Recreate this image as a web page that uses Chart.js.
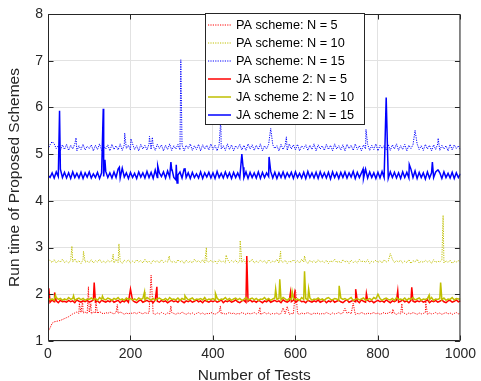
<!DOCTYPE html>
<html>
<head>
<meta charset="utf-8">
<script src="https://cdn.jsdelivr.net/npm/chart.js@4/dist/chart.umd.min.js"></script>
<style>
html,body{margin:0;padding:0;background:#fff;}
#wrap{width:481px;height:381px;}
</style>
</head>
<body>
<div id="wrap"><canvas id="c" width="481" height="381"></canvas></div>
<script>
// ---- data (sampled every testStep tests, plus isolated spikes as [test, value]) ----
const testStep = 5;
const xTicks = [0, 200, 400, 600, 800, 1000];
const yTicks = [1, 2, 3, 4, 5, 6, 7, 8];
const seriesLabels = ['PA scheme: N = 5', 'PA scheme: N = 10', 'PA scheme: N = 15',
                      'JA scheme 2: N = 5', 'JA scheme 2: N = 10', 'JA scheme 2: N = 15'];

const pa5 = [
1.20,1.28,1.38,1.41,1.42,1.43,1.44,1.46,1.48,1.50,
1.52,1.55,1.58,1.60,1.62,1.59,1.61,1.60,1.62,1.59,
1.61,1.58,1.62,1.60,1.59,1.63,1.60,1.58,1.61,1.59,
1.62,1.60,1.58,1.61,1.59,1.62,1.60,1.57,1.60,1.58,
1.60,1.59,1.61,1.58,1.62,1.60,1.58,1.61,1.59,1.60,
1.62,1.59,1.57,1.60,1.58,1.61,1.59,1.57,1.60,1.58,
1.61,1.59,1.57,1.60,1.58,1.62,1.59,1.57,1.60,1.58,
1.60,1.57,1.59,1.61,1.58,1.60,1.57,1.59,1.58,1.61,
1.59,1.57,1.60,1.62,1.58,1.60,1.57,1.59,1.61,1.58,
1.60,1.57,1.59,1.58,1.61,1.59,1.57,1.60,1.58,1.59,
1.61,1.58,1.60,1.57,1.59,1.61,1.58,1.60,1.57,1.59,
1.58,1.60,1.57,1.59,1.61,1.58,1.60,1.57,1.59,1.58,
1.61,1.59,1.57,1.60,1.58,1.59,1.61,1.58,1.57,1.60,
1.58,1.60,1.57,1.59,1.58,1.61,1.59,1.57,1.60,1.58,
1.59,1.61,1.58,1.60,1.57,1.59,1.62,1.58,1.60,1.57,
1.59,1.58,1.61,1.59,1.57,1.60,1.58,1.59,1.61,1.58,
1.60,1.57,1.59,1.61,1.58,1.60,1.62,1.58,1.59,1.57,
1.60,1.58,1.61,1.59,1.57,1.60,1.58,1.61,1.59,1.57,
1.60,1.58,1.59,1.61,1.57,1.60,1.58,1.59,1.61,1.58,
1.60,1.57,1.59,1.61,1.58,1.60,1.57,1.59,1.61,1.58,
1.60];
const pa5Spikes = [[76,1.81],[84,1.87],[98,2.16],[104,1.80],[116,1.87],[168,1.78],[250,2.41],[298,1.75],
  [418,1.75],[514,1.72],[570,1.71],[580,1.74],[600,2.10],[602,1.95],[720,1.70],[740,1.81],[836,1.68],[858,1.80],[916,1.83]];

const pa10 = [
2.78,2.72,2.68,2.74,2.67,2.72,2.69,2.75,2.68,2.71,
2.67,2.73,2.69,2.76,2.68,2.72,2.66,2.74,2.69,2.71,
2.68,2.74,2.67,2.72,2.69,2.75,2.68,2.71,2.67,2.73,
2.69,2.72,2.67,2.75,2.68,2.71,2.66,2.73,2.69,2.74,
2.67,2.71,2.68,2.74,2.69,2.72,2.67,2.75,2.68,2.71,
2.66,2.73,2.69,2.72,2.67,2.74,2.68,2.71,2.69,2.75,
2.68,2.71,2.67,2.74,2.69,2.72,2.66,2.73,2.68,2.71,
2.67,2.75,2.69,2.72,2.68,2.74,2.67,2.71,2.69,2.73,
2.68,2.72,2.66,2.74,2.69,2.71,2.67,2.75,2.68,2.72,
2.69,2.73,2.67,2.71,2.68,2.74,2.66,2.72,2.69,2.75,
2.67,2.71,2.68,2.73,2.69,2.72,2.66,2.74,2.68,2.71,
2.69,2.75,2.67,2.72,2.68,2.73,2.66,2.71,2.69,2.74,
2.68,2.72,2.67,2.75,2.69,2.71,2.66,2.73,2.68,2.72,
2.67,2.74,2.69,2.71,2.68,2.73,2.66,2.72,2.69,2.75,
2.68,2.71,2.67,2.74,2.69,2.72,2.66,2.73,2.68,2.71,
2.67,2.75,2.69,2.72,2.68,2.74,2.66,2.71,2.69,2.73,
2.68,2.72,2.67,2.74,2.69,2.71,2.66,2.75,2.68,2.72,
2.69,2.73,2.67,2.71,2.68,2.74,2.66,2.72,2.69,2.75,
2.67,2.71,2.68,2.73,2.69,2.72,2.66,2.74,2.68,2.71,
2.69,2.74,2.67,2.72,2.68,2.73,2.66,2.71,2.69,2.72,
2.68];
const pa10Spikes = [[58,3.03],[86,2.92],[158,2.86],[172,3.08],[294,2.82],[384,3.00],[432,2.84],[466,3.15],
  [564,2.92],[622,2.82],[830,2.87],[958,3.69]];

const pa15 = [
5.10,5.20,5.08,5.22,5.12,5.18,5.07,5.20,5.10,5.21,
5.08,5.19,5.11,5.22,5.07,5.18,5.10,5.21,5.09,5.17,
5.12,5.20,5.07,5.19,5.10,5.22,5.08,5.18,5.11,5.20,
5.07,5.21,5.10,5.18,5.09,5.22,5.08,5.20,5.12,5.19,
5.08,5.22,5.10,5.18,5.07,5.21,5.11,5.19,5.09,5.22,
5.10,5.18,5.08,5.21,5.12,5.20,5.07,5.19,5.10,5.22,
5.08,5.18,5.11,5.21,5.09,5.20,5.07,5.19,5.12,5.22,
5.08,5.18,5.10,5.21,5.07,5.20,5.11,5.19,5.09,5.22,
5.10,5.19,5.07,5.21,5.11,5.18,5.08,5.22,5.10,5.20,
5.07,5.18,5.12,5.21,5.09,5.19,5.08,5.22,5.11,5.20,
5.08,5.19,5.10,5.22,5.07,5.18,5.11,5.21,5.09,5.20,
5.12,5.18,5.07,5.21,5.10,5.19,5.08,5.22,5.11,5.20,
5.09,5.21,5.07,5.18,5.12,5.20,5.08,5.19,5.10,5.22,
5.07,5.20,5.11,5.18,5.08,5.21,5.10,5.19,5.07,5.22,
5.11,5.18,5.09,5.20,5.07,5.21,5.12,5.19,5.08,5.22,
5.10,5.18,5.07,5.20,5.11,5.21,5.08,5.19,5.10,5.22,
5.07,5.19,5.12,5.18,5.09,5.21,5.08,5.20,5.11,5.22,
5.08,5.18,5.10,5.21,5.07,5.19,5.12,5.20,5.09,5.22,
5.10,5.18,5.08,5.21,5.11,5.19,5.07,5.20,5.10,5.22,
5.08,5.19,5.11,5.18,5.07,5.21,5.09,5.20,5.12,5.18,
5.09];
const pa15Spikes = [[10,5.27],[68,5.35],[186,5.45],[201,5.33],[246,5.38],[253,5.36],[322,7.02],[419,5.75],
  [540,5.55],[578,5.37],[771,5.53],[890,5.51],[946,5.34]];

const ja5 = [
1.86,1.83,1.88,1.84,1.86,1.82,1.87,1.84,1.85,1.83,
1.87,1.84,1.86,1.82,1.88,1.85,1.83,1.86,1.84,1.87,
1.83,1.85,1.88,1.84,1.86,1.82,1.87,1.85,1.83,1.86,
1.84,1.88,1.83,1.85,1.87,1.82,1.86,1.84,1.88,1.83,
1.85,1.87,1.84,1.82,1.86,1.88,1.83,1.85,1.87,1.84,
1.86,1.82,1.88,1.85,1.83,1.87,1.84,1.86,1.82,1.85,
1.87,1.84,1.86,1.83,1.88,1.85,1.82,1.86,1.84,1.87,
1.83,1.85,1.88,1.84,1.86,1.82,1.87,1.85,1.83,1.86,
1.84,1.87,1.83,1.85,1.88,1.82,1.86,1.84,1.87,1.83,
1.85,1.88,1.84,1.82,1.86,1.87,1.83,1.85,1.88,1.84,
1.86,1.83,1.87,1.85,1.82,1.86,1.84,1.88,1.83,1.85,
1.87,1.84,1.86,1.82,1.88,1.85,1.83,1.86,1.84,1.87,
1.83,1.86,1.88,1.84,1.85,1.82,1.87,1.85,1.83,1.86,
1.84,1.88,1.83,1.85,1.87,1.82,1.86,1.84,1.88,1.83,
1.85,1.87,1.84,1.82,1.86,1.88,1.83,1.85,1.87,1.84,
1.86,1.82,1.88,1.85,1.83,1.87,1.84,1.86,1.82,1.85,
1.87,1.84,1.86,1.83,1.88,1.85,1.82,1.86,1.84,1.87,
1.83,1.85,1.88,1.84,1.86,1.82,1.87,1.85,1.83,1.86,
1.84,1.87,1.83,1.85,1.88,1.82,1.86,1.84,1.87,1.83,
1.85,1.88,1.84,1.82,1.86,1.87,1.83,1.85,1.88,1.84,
1.86];
const ja5Spikes = [[2,2.13],[16,2.04],[112,2.25],[200,2.11],[264,2.16],[482,2.82],[588,2.04],[598,2.02],
  [746,2.11],[772,2.02],[848,2.07],[882,2.15]];

const ja10 = [
1.92,1.88,1.90,1.87,1.93,1.89,1.91,1.87,1.90,1.88,
1.93,1.89,1.91,1.87,1.90,1.92,1.88,1.91,1.87,1.90,
1.89,1.92,1.88,1.91,1.87,1.93,1.89,1.90,1.88,1.92,
1.90,1.87,1.91,1.89,1.93,1.88,1.90,1.87,1.92,1.89,
1.91,1.88,1.90,1.87,1.92,1.89,1.91,1.88,1.93,1.90,
1.88,1.91,1.87,1.90,1.92,1.89,1.88,1.91,1.87,1.93,
1.89,1.90,1.88,1.92,1.87,1.91,1.89,1.93,1.88,1.90,
1.92,1.87,1.90,1.89,1.91,1.88,1.93,1.87,1.90,1.89,
1.91,1.88,1.92,1.87,1.90,1.89,1.93,1.88,1.91,1.87,
1.90,1.92,1.88,1.91,1.87,1.89,1.93,1.88,1.90,1.92,
1.88,1.91,1.87,1.90,1.89,1.93,1.88,1.91,1.87,1.90,
1.92,1.89,1.91,1.88,1.93,1.90,1.87,1.91,1.89,1.92,
1.88,1.90,1.87,1.93,1.89,1.91,1.88,1.92,1.87,1.90,
1.89,1.92,1.88,1.90,1.87,1.91,1.93,1.89,1.88,1.91,
1.90,1.87,1.92,1.89,1.91,1.88,1.90,1.93,1.87,1.89,
1.91,1.88,1.90,1.92,1.87,1.89,1.91,1.88,1.93,1.90,
1.88,1.91,1.87,1.90,1.92,1.89,1.88,1.91,1.87,1.93,
1.89,1.90,1.88,1.92,1.87,1.91,1.89,1.93,1.88,1.90,
1.92,1.87,1.90,1.89,1.91,1.88,1.93,1.87,1.90,1.89,
1.91,1.88,1.92,1.87,1.90,1.89,1.93,1.88,1.91,1.90,
1.90];
const ja10Spikes = [[18,1.98],[62,1.97],[132,1.96],[234,2.05],[332,1.97],[406,2.02],[552,2.11],[562,2.32],
  [592,2.06],[622,2.49],[632,2.11],[706,2.18],[800,2.00],[924,1.98],[952,2.25]];

const ja15 = [
4.55,4.50,4.60,4.49,4.62,4.52,4.68,4.50,4.61,4.49,
4.60,4.48,4.62,4.50,4.59,4.49,4.61,4.48,4.60,4.51,
4.62,4.49,4.58,4.50,4.61,4.48,4.60,4.52,4.63,4.50,
4.60,4.49,4.62,4.50,4.68,4.49,4.70,4.51,4.60,4.48,
4.61,4.50,4.59,4.48,4.62,4.51,4.60,4.49,4.63,4.50,
4.61,4.48,4.66,4.50,4.60,4.52,4.62,4.49,4.64,4.51,
4.66,4.50,4.45,4.55,4.62,4.49,4.68,4.50,4.60,4.48,
4.61,4.50,4.58,4.49,4.62,4.48,4.60,4.51,4.61,4.49,
4.60,4.48,4.63,4.50,4.59,4.49,4.62,4.50,4.60,4.48,
4.61,4.50,4.60,4.49,4.70,4.50,4.62,4.48,4.61,4.50,
4.60,4.49,4.62,4.48,4.61,4.50,4.60,4.52,4.63,4.49,
4.61,4.48,4.60,4.50,4.62,4.49,4.60,4.51,4.61,4.48,
4.62,4.50,4.59,4.49,4.61,4.48,4.63,4.50,4.60,4.49,
4.61,4.48,4.62,4.50,4.60,4.49,4.61,4.47,4.62,4.50,
4.60,4.48,4.61,4.50,4.62,4.49,4.60,4.51,4.63,4.48,
4.61,4.50,4.60,4.48,4.68,4.49,4.62,4.50,4.60,4.48,
4.61,4.49,4.63,4.50,4.60,4.48,4.62,4.50,4.61,4.49,
4.60,4.48,4.62,4.50,4.61,4.49,4.68,4.50,4.64,4.48,
4.61,4.50,4.60,4.47,4.62,4.49,4.60,4.50,4.62,4.66,
4.60,4.48,4.62,4.50,4.59,4.49,4.61,4.48,4.60,4.50,
4.58];
const ja15Spikes = [[28,5.93],[134,5.97],[138,4.88],[173,4.72],[266,4.75],[298,4.83],[301,4.66],[311,4.77],
  [313,4.38],[332,4.70],[470,5.00],[473,4.72],[536,4.94],[764,4.68],[820,6.21],[876,4.78],[932,4.83],[946,4.66]];

// ---- build point lists from the arrays ----
function buildPoints(base, spikes) {
  const m = new Map();
  base.forEach((v, i) => m.set(i * testStep, v));
  spikes.forEach(([x, v]) => m.set(x, v));
  return [...m.entries()].sort((a, b) => a[0] - b[0]).map(([x, y]) => ({x, y}));
}

const RED = '#ff0000', YEL = '#bfbf00', BLU = '#0000ff';
const dotted = [1.2, 1.2];
const datasets = [
  {label: seriesLabels[0], data: buildPoints(pa5, pa5Spikes), borderColor: RED, borderWidth: 1, borderDash: dotted, order: 6},
  {label: seriesLabels[1], data: buildPoints(pa10, pa10Spikes), borderColor: YEL, borderWidth: 1, borderDash: dotted, order: 5},
  {label: seriesLabels[2], data: buildPoints(pa15, pa15Spikes), borderColor: BLU, borderWidth: 1, borderDash: dotted, order: 4},
  {label: seriesLabels[3], data: buildPoints(ja5, ja5Spikes), borderColor: RED, borderWidth: 1.5, borderDash: [], order: 3},
  {label: seriesLabels[4], data: buildPoints(ja10, ja10Spikes), borderColor: YEL, borderWidth: 1.5, borderDash: [], order: 2},
  {label: seriesLabels[5], data: buildPoints(ja15, ja15Spikes), borderColor: BLU, borderWidth: 1.5, borderDash: [], order: 1}
];

const FONT = '"Liberation Sans", Arial, Helvetica, sans-serif';
const AXC = '#262626';

// frame with inward ticks on all four sides (MATLAB "box on")
const frame = {
  id: 'frame',
  afterDatasetsDraw(chart) {
    const {ctx, chartArea: a, scales} = chart;
    ctx.save();
    ctx.strokeStyle = AXC;
    ctx.lineWidth = 1;
    ctx.setLineDash([]);
    const L = a.left + 0.5, R = a.right - 0.5, T = a.top + 0.5, B = a.bottom - 0.5;
    ctx.beginPath();
    ctx.rect(L, T, R - L, B - T);
    const tl = 5;
    xTicks.forEach(v => {
      const p = Math.round(scales.x.getPixelForValue(v)) + 0.5;
      ctx.moveTo(p, B); ctx.lineTo(p, B - tl);
      ctx.moveTo(p, T); ctx.lineTo(p, T + tl);
    });
    yTicks.forEach(v => {
      const p = Math.round(scales.y.getPixelForValue(v)) + 0.5;
      ctx.moveTo(L, p); ctx.lineTo(L + tl, p);
      ctx.moveTo(R, p); ctx.lineTo(R - tl, p);
    });
    ctx.stroke();
    ctx.restore();
  }
};

// legend box drawn over the plot (top-right inside axes)
const boxLegend = {
  id: 'boxLegend',
  afterDraw(chart, args, opts) {
    const {ctx} = chart;
    ctx.save();
    const x0 = opts.x, y0 = opts.y, w = opts.w, h = opts.h;
    ctx.fillStyle = '#ffffff';
    ctx.fillRect(x0, y0, w, h);
    ctx.strokeStyle = AXC;
    ctx.lineWidth = 1;
    ctx.setLineDash([]);
    ctx.strokeRect(x0 + 0.5, y0 + 0.5, w - 1, h - 1);
    ctx.font = opts.fontSize + 'px ' + FONT;
    ctx.textBaseline = 'middle';
    ctx.textAlign = 'left';
    chart.data.datasets.forEach((ds, i) => {
      const yy = y0 + opts.firstRow + i * opts.rowGap;
      ctx.beginPath();
      ctx.strokeStyle = ds.borderColor;
      ctx.lineWidth = ds.borderWidth;
      ctx.setLineDash(ds.borderDash || []);
      ctx.moveTo(x0 + opts.lineStart, yy);
      ctx.lineTo(x0 + opts.lineEnd, yy);
      ctx.stroke();
      ctx.setLineDash([]);
      ctx.fillStyle = '#000000';
      ctx.fillText(ds.label, x0 + opts.textStart, yy + 0.5);
    });
    ctx.restore();
  }
};

new Chart(document.getElementById('c'), {
  type: 'line',
  data: {datasets},
  options: {
    responsive: false,
    animation: false,
    devicePixelRatio: 1,
    elements: {point: {radius: 0, hoverRadius: 0}, line: {tension: 0}},
    layout: {padding: {top: 14, right: 16, left: 0, bottom: 0}},
    plugins: {
      legend: {display: false},
      tooltip: {enabled: false},
      boxLegend: {x: 205, y: 13, w: 160, h: 112, firstRow: 12, rowGap: 18, lineStart: 3, lineEnd: 26, textStart: 31, fontSize: 12.7}
    },
    scales: {
      x: {
        type: 'linear', min: 0, max: 1000,
        afterFit(s) { s.height = 40; },
        afterBuildTicks(s) { s.ticks = xTicks.map(v => ({value: v})); },
        ticks: {color: AXC, font: {family: FONT, size: 14}, padding: 5, maxRotation: 0, autoSkip: false,
                callback: v => String(v)},
        grid: {color: '#e2e2e2', lineWidth: 1, drawTicks: false},
        border: {display: false},
        title: {display: true, text: 'Number of Tests', color: AXC, font: {family: FONT, size: 15.5, lineHeight: 1.2}, padding: {top: 0, bottom: -4.3}}
      },
      y: {
        type: 'linear', min: 1, max: 8,
        afterFit(s) { s.width = 48; },
        afterBuildTicks(s) { s.ticks = yTicks.map(v => ({value: v})); },
        ticks: {color: AXC, font: {family: FONT, size: 14}, padding: 5, callback: v => String(v)},
        grid: {color: '#e2e2e2', lineWidth: 1, drawTicks: false},
        border: {display: false},
        title: {display: true, text: 'Run time of Proposed Schemes', color: AXC, font: {family: FONT, size: 15.5, lineHeight: 1.2}, padding: {top: 5.7, bottom: 0}}
      }
    }
  },
  plugins: [frame, boxLegend]
});
</script>
</body>
</html>
